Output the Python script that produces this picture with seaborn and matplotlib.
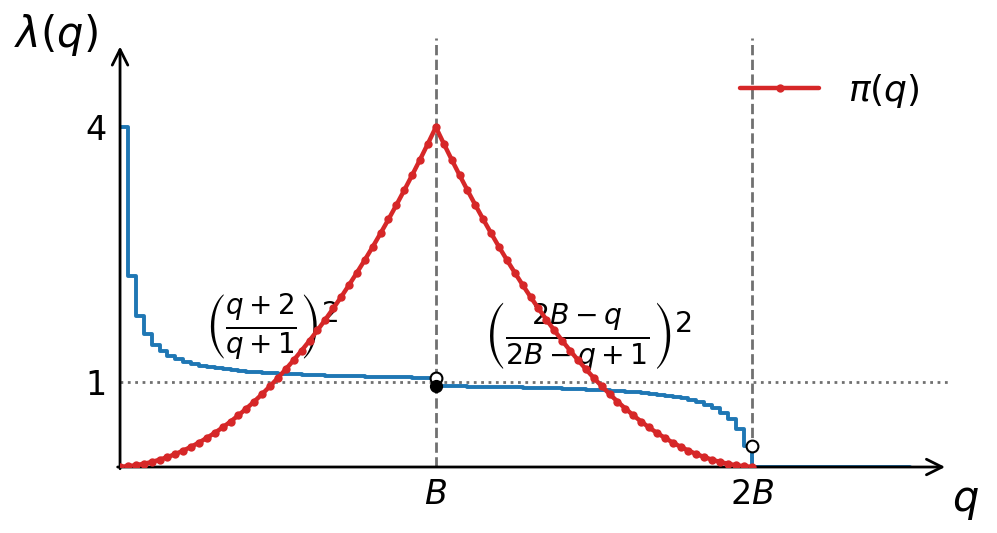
import numpy as np
import matplotlib
matplotlib.use('Agg')
import matplotlib.pyplot as plt
import pandas as pd
import seaborn as sns

# =========================
# DATA (B = 40 steps)
# =========================
B = 40

# pi(q) on the rising side, q = 0 .. B
pi_rise = [0.002, 0.010, 0.021, 0.038, 0.059, 0.086, 0.117, 0.152, 0.193, 0.238,
           0.288, 0.343, 0.402, 0.466, 0.535, 0.609, 0.688, 0.771, 0.859, 0.952,
           1.049, 1.152, 1.259, 1.371, 1.487, 1.609, 1.735, 1.866, 2.001, 2.142,
           2.287, 2.437, 2.591, 2.751, 2.915, 3.084, 3.258, 3.436, 3.619, 3.807,
           4.000]
# pi(q) on the falling side, q = B+1 .. 2B
pi_fall = [3.807, 3.619, 3.436, 3.258, 3.084, 2.915, 2.751, 2.591, 2.437, 2.287,
           2.142, 2.001, 1.866, 1.735, 1.609, 1.487, 1.371, 1.259, 1.152, 1.049,
           0.952, 0.859, 0.771, 0.688, 0.609, 0.535, 0.466, 0.402, 0.343, 0.288,
           0.238, 0.193, 0.152, 0.117, 0.086, 0.059, 0.038, 0.021, 0.010, 0.002]

# lambda(q), q = 0 .. B-1
lam_left = [4.000, 2.250, 1.778, 1.563, 1.440, 1.361, 1.306, 1.266, 1.235, 1.210,
            1.190, 1.174, 1.160, 1.148, 1.138, 1.129, 1.121, 1.114, 1.108, 1.103,
            1.098, 1.093, 1.089, 1.085, 1.082, 1.078, 1.075, 1.073, 1.070, 1.068,
            1.066, 1.063, 1.062, 1.060, 1.058, 1.056, 1.055, 1.053, 1.052, 1.051]
# lambda(q), q = B .. 2B-1
lam_right = [0.952, 0.951, 0.949, 0.948, 0.947, 0.945, 0.944, 0.942, 0.940, 0.938,
             0.937, 0.934, 0.932, 0.930, 0.927, 0.925, 0.922, 0.918, 0.915, 0.911,
             0.907, 0.903, 0.898, 0.892, 0.886, 0.879, 0.871, 0.862, 0.852, 0.840,
             0.826, 0.810, 0.790, 0.766, 0.735, 0.694, 0.640, 0.563, 0.444, 0.250]
# lambda(q), q = 2B .. 2.5B
lam_tail = [0.0] * 21

pi_vals = pi_rise + pi_fall
lam_vals = lam_left + lam_right + lam_tail

df_pi = pd.DataFrame({'q': np.arange(len(pi_vals)), 'pi': pi_vals})
df_lam = pd.DataFrame({'q': np.arange(len(lam_vals)), 'lam': lam_vals})

# =========================
# PLOTTING
# =========================
sns.set_theme('paper')
sns.set_style('white')
plt.rcParams['font.family'] = ['DejaVu Sans']
plt.rcParams['mathtext.fontset'] = 'dejavusans'
plt.rcParams['text.color'] = 'black'
plt.rcParams['xtick.color'] = 'black'
plt.rcParams['ytick.color'] = 'black'

fig = plt.figure(figsize=(9.97, 5.33), dpi=100)
ax = fig.add_axes([0.1204, 0.1238, 0.8315, 0.805])

sns.lineplot(data=df_lam, x='q', y='lam', ax=ax, color='#1f77b4', lw=2.8,
             drawstyle='steps-post', zorder=3)
sns.lineplot(data=df_pi, x='q', y='pi', ax=ax, color='#d62728', lw=3.2,
             marker='o', markersize=6, markeredgewidth=0, label=r'$\pi(q)$', zorder=4)

# guides
ax.axvline(B, color='#707070', ls='--', lw=2, zorder=1)
ax.axvline(2 * B, color='#707070', ls='--', lw=2, zorder=1)
ax.axhline(1, color='#707070', ls=':', lw=2, zorder=1)

# jump markers
ax.plot(B, lam_left[-1], 'o', mfc='white', mec='black', ms=8.5, mew=1.5, zorder=5)
ax.plot(B, lam_right[0], 'o', color='black', ms=8.5, zorder=5)
ax.plot(2 * B, lam_right[-1], 'o', mfc='white', mec='black', ms=8.5, mew=1.5, zorder=5)

ax.set_xlim(0, 105)
ax.set_ylim(0, 5.05)
for s in ax.spines.values():
    s.set_visible(False)

# axis arrows
arrow = dict(arrowstyle='->', lw=2, color='black', mutation_scale=28, shrinkA=0, shrinkB=0)
ax.annotate('', xy=(0, 4.95), xytext=(0, -0.02), arrowprops=arrow, annotation_clip=False)
ax.annotate('', xy=(104.5, 0), xytext=(-0.3, 0), arrowprops=arrow, annotation_clip=False)

ax.set_xticks([B, 2 * B])
ax.set_xticklabels([r'$B$', r'$2B$'], fontsize=24)
ax.set_yticks([1, 4])
ax.set_yticklabels(['1', '4'], fontsize=24)
ax.tick_params(axis='x', length=0, pad=8)
ax.tick_params(axis='y', length=6, width=1.5, color='black', pad=4)
ax.set_xlabel('')
ax.set_ylabel('')

fig.text(0.056, 0.934, r'$\lambda(q)$', fontsize=30, ha='center', va='center')
fig.text(0.968, 0.060, r'$q$', fontsize=30, ha='center', va='center')

ax.text(19.2, 1.64, r'$\left(\frac{q+2}{q+1}\right)^2$', fontsize=28.5, ha='center', va='center')
ax.text(59.3, 1.53, r'$\left(\frac{2B-q}{2B-q+1}\right)^2$', fontsize=29, ha='center', va='center')

ax.legend(loc='upper right', bbox_to_anchor=(1.004, 0.997), frameon=False, fontsize=26,
          handlelength=2.2, numpoints=1)

fig.savefig('out.png', dpi=100)
